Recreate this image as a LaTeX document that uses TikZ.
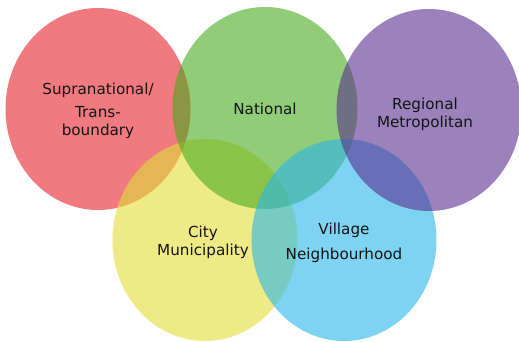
\documentclass[tikz,border=0pt]{standalone}
\usepackage{fontspec}
\setsansfont{DejaVu Sans}
\usepackage{tikz}
\usetikzlibrary{shapes.geometric, positioning}
\definecolor{suprared}{RGB}{230,33,43}
\definecolor{nationgreen}{RGB}{72,170,30}
\definecolor{regionpurple}{RGB}{88,47,143}
\definecolor{cityyellow}{RGB}{227,222,55}
\definecolor{villageblue}{RGB}{42,182,233}
\definecolor{textdark}{RGB}{20,20,20}

\begin{document}
\begin{tikzpicture}[x=1pt, y=-1pt,
    font=\sffamily\fontsize{15.2}{18}\selectfont, text=textdark,
    level/.style={ellipse, draw=none, fill opacity=0.6,
      minimum width=185pt, minimum height=202pt, inner sep=0pt},
    levelname/.style={align=center, inner sep=0pt}]
    \useasboundingbox (0,0) rectangle (519,341);

    % Circles, in stacking order
    \node[level, fill=suprared] (supra) at (98,109) {};
    \node[level, fill=cityyellow] (city) at (205,240) {};
    \node[level, fill=nationgreen] (nation) at (265,108) {};
    \node[level, fill=villageblue] (village) at (344,240) {};
    \node[level, fill=regionpurple] (region) at (429,110) {};

    % Names
    \node[levelname] (supraname) at ([yshift=-2pt]supra.center)
      {Supranational/\\[5pt]Trans-\\boundary};
    \node[levelname] (cityname) at ([xshift=-2pt, yshift=-2pt]city.center)
      {City\\Municipality};
    \node[levelname] (nationname) at ([yshift=-1pt]nation.center) {National};
    \node[levelname] (villagename) at ([yshift=-3pt]village.center)
      {Village\\[7pt]Neighbourhood};
    \node[levelname] (regionname) at ([xshift=-4pt, yshift=-4pt]region.center)
      {Regional\\Metropolitan};
\end{tikzpicture}
\end{document}
